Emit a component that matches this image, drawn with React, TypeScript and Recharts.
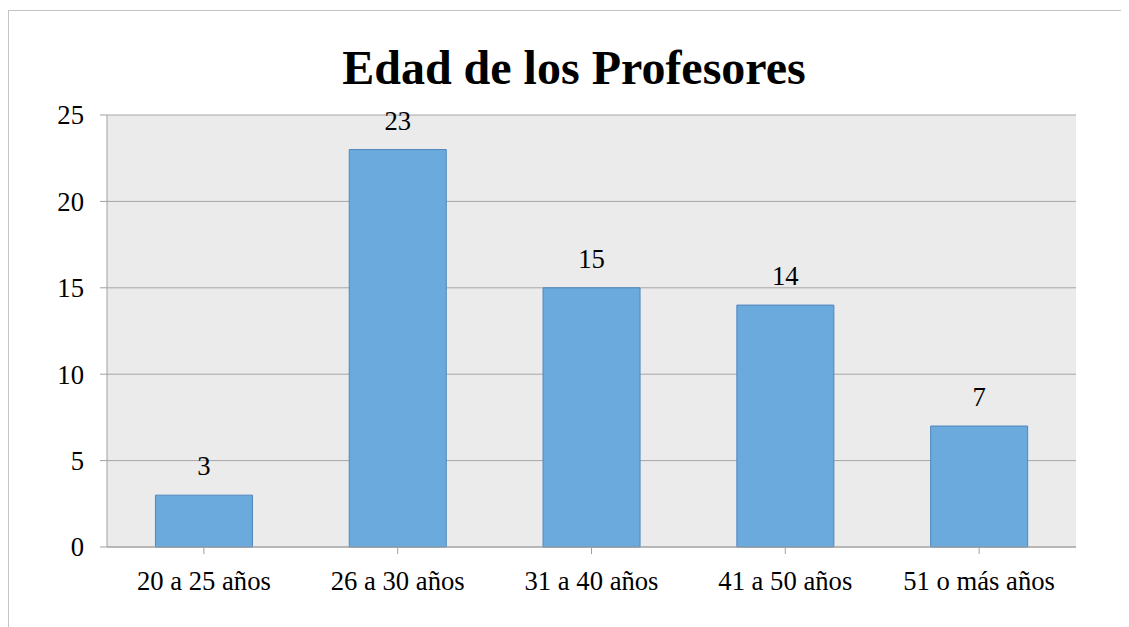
import React from "react";
import { BarChart, Bar, XAxis, YAxis, CartesianGrid, LabelList } from "recharts";

const categories = ["20 a 25 años", "26 a 30 años", "31 a 40 años", "41 a 50 años", "51 o más años"];
const values = [3, 23, 15, 14, 7];
const yTicks = [0, 5, 10, 15, 20, 25];

const data = categories.map((c, i) => ({ name: c, value: values[i] }));

const font = "'Liberation Serif', 'Times New Roman', serif";
const tickFont = 26.67;

export default function App() {
  return (
    <div
      style={{
        position: "relative",
        marginTop: 2,
        width: 1113,
        height: 617,
        fontFamily: font,
      }}
    >
      <style>{`html,body{overflow:hidden}`}</style>
      <div style={{ position: "absolute", left: 0, top: 0, width: 1121, height: 1, background: "#c4c4c4" }} />
      <div style={{ position: "absolute", left: 0, top: 0, width: 1, height: 617, background: "#c4c4c4" }} />
      <div
        style={{
          position: "absolute",
          left: 1,
          width: 1130,
          top: 34,
          textAlign: "center",
          fontSize: 48,
          fontWeight: "bold",
          lineHeight: 1,
          color: "#000",
          whiteSpace: "nowrap",
        }}
      >
        Edad de los Profesores
      </div>
      <div style={{ position: "absolute", left: 1, top: 1 }}>
        <BarChart
          width={1100}
          height={600}
          data={data}
          margin={{ top: 104, right: 33, left: 0, bottom: 4 }}
          barCategoryGap="25%"
        >
          <CartesianGrid vertical={false} fill="#ebebeb" stroke="#a6a6a6" strokeWidth={1} />
          <XAxis
            dataKey="name"
            height={60}
            tickSize={7}
            tickMargin={17}
            stroke="#a0a0a0"
            tick={{ fill: "#000", fontSize: tickFont, fontFamily: font }}
            interval={0}
          />
          <YAxis
            width={98}
            domain={[0, 25]}
            ticks={yTicks}
            tickSize={7}
            tickMargin={16}
            stroke="#a0a0a0"
            tick={{ fill: "#000", fontSize: tickFont, fontFamily: font }}
          />
          <Bar dataKey="value" fill="#6aaadc" stroke="#4f86bd" strokeWidth={1} isAnimationActive={false}>
            <LabelList dataKey="value" position="top" offset={20} style={{ fill: "#000", fontSize: tickFont, fontFamily: font }} />
          </Bar>
        </BarChart>
      </div>
    </div>
  );
}
